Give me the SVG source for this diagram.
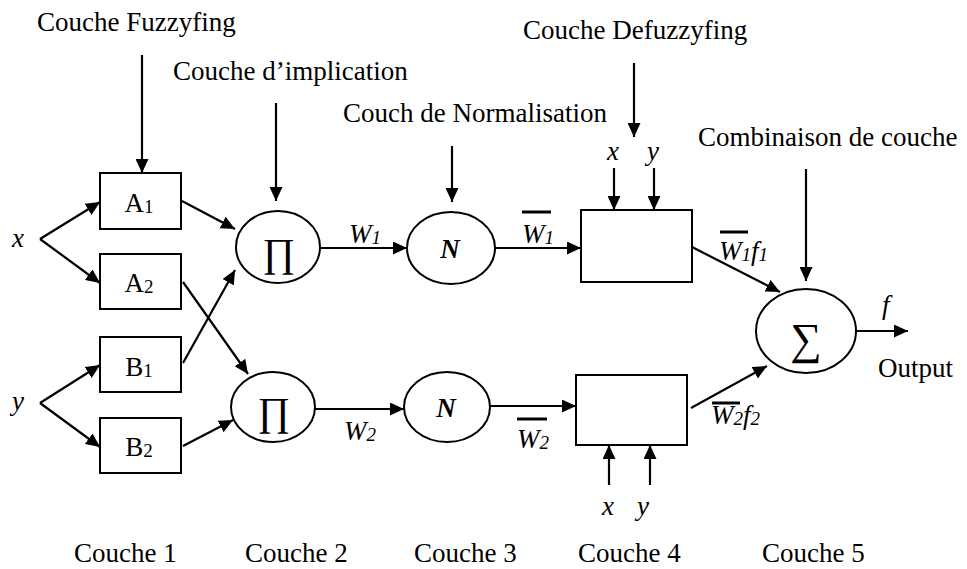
<svg xmlns="http://www.w3.org/2000/svg" width="967" height="569" viewBox="0 0 967 569">
<style>
text{font-family:"Liberation Serif","Times New Roman",serif;font-size:27px;fill:#000}
.it{font-style:italic}
.sub{font-size:19px}
.bi{font-style:italic;font-weight:bold}
.op{font-size:40px}
.shape{fill:#fff;stroke:#000;stroke-width:2}
.c line{stroke:#000;stroke-width:2.2;fill:none}
.bar{stroke:#000;stroke-width:3}
</style>
<defs>
<marker id="ah" markerUnits="userSpaceOnUse" markerWidth="15" markerHeight="13" refX="14" refY="6.5" orient="auto">
<path d="M0,0 L14,6.5 L0,13 z" fill="#000"/>
</marker>
</defs>
<rect width="967" height="569" fill="#fff"/>

<g id="layer-labels">
<text x="37" y="31">Couche Fuzzyfing</text>
<text x="173" y="80">Couche d’implication</text>
<text x="343" y="122">Couch de Normalisation</text>
<text x="523" y="39">Couche Defuzzyfing</text>
<text x="698" y="146">Combinaison de couche</text>
<text x="74" y="562">Couche 1</text>
<text x="245" y="562">Couche 2</text>
<text x="414" y="562">Couche 3</text>
<text x="578" y="562">Couche 4</text>
<text x="762" y="562">Couche 5</text>
</g>

<g id="input-x"><text class="it" x="12" y="247">x</text></g>
<g id="input-y"><text class="it" x="12" y="410">y</text></g>

<g id="A1"><rect class="shape" x="100" y="173" width="81" height="56"/><text x="139" y="212" text-anchor="middle">A<tspan class="sub" dy="1">1</tspan></text></g>
<g id="A2"><rect class="shape" x="100" y="254" width="81" height="55"/><text x="139" y="292" text-anchor="middle">A<tspan class="sub" dy="1">2</tspan></text></g>
<g id="B1"><rect class="shape" x="100" y="337" width="81" height="55"/><text x="139" y="376" text-anchor="middle">B<tspan class="sub" dy="1">1</tspan></text></g>
<g id="B2"><rect class="shape" x="100" y="418" width="81" height="55"/><text x="139" y="456" text-anchor="middle">B<tspan class="sub" dy="1">2</tspan></text></g>

<g id="Pi1"><ellipse class="shape" cx="278" cy="247" rx="42" ry="36"/><text class="op" x="279" y="266" text-anchor="middle">∏</text></g>
<g id="Pi2"><ellipse class="shape" cx="273" cy="407" rx="42" ry="35"/><text class="op" x="274" y="425" text-anchor="middle">∏</text></g>

<g id="N1"><ellipse class="shape" cx="451" cy="248" rx="44" ry="36"/><text class="bi" x="450" y="258" text-anchor="middle">N</text></g>
<g id="N2"><ellipse class="shape" cx="447" cy="407" rx="43" ry="35"/><text class="bi" x="446" y="417" text-anchor="middle">N</text></g>

<g id="Box1"><rect class="shape" x="581" y="210" width="111" height="72"/></g>
<g id="Box2"><rect class="shape" x="576" y="375" width="111" height="70"/></g>

<g id="Sigma"><ellipse class="shape" cx="806" cy="331" rx="50" ry="42"/><text class="op" x="806" y="354" text-anchor="middle" style="font-size:44px">∑</text></g>

<g id="connectors" class="c">
<line x1="142" y1="55" x2="142" y2="173" marker-end="url(#ah)"/>
<line x1="276" y1="103" x2="276" y2="201" marker-end="url(#ah)"/>
<line x1="452" y1="146" x2="452" y2="202" marker-end="url(#ah)"/>
<line x1="634" y1="63" x2="634" y2="137" marker-end="url(#ah)"/>
<line x1="806" y1="169" x2="806" y2="281" marker-end="url(#ah)"/>
<line x1="40" y1="239" x2="100" y2="202" marker-end="url(#ah)"/>
<line x1="40" y1="239" x2="100" y2="283" marker-end="url(#ah)"/>
<line x1="40" y1="403" x2="100" y2="365" marker-end="url(#ah)"/>
<line x1="40" y1="403" x2="100" y2="447" marker-end="url(#ah)"/>
<line x1="182" y1="201" x2="235" y2="229" marker-end="url(#ah)"/>
<line x1="183" y1="282" x2="248" y2="374" marker-end="url(#ah)"/>
<line x1="183" y1="363" x2="235" y2="270" marker-end="url(#ah)"/>
<line x1="183" y1="446" x2="233" y2="420" marker-end="url(#ah)"/>
<line x1="320" y1="248" x2="407" y2="248" marker-end="url(#ah)"/>
<line x1="315" y1="409" x2="404" y2="409" marker-end="url(#ah)"/>
<line x1="495" y1="248" x2="581" y2="248" marker-end="url(#ah)"/>
<line x1="490" y1="406" x2="576" y2="406" marker-end="url(#ah)"/>
<line x1="614" y1="168" x2="614" y2="210" marker-end="url(#ah)"/>
<line x1="654" y1="168" x2="654" y2="210" marker-end="url(#ah)"/>
<line x1="609" y1="485" x2="609" y2="445" marker-end="url(#ah)"/>
<line x1="650" y1="485" x2="650" y2="445" marker-end="url(#ah)"/>
<line x1="692" y1="247" x2="780" y2="292" marker-end="url(#ah)"/>
<line x1="691" y1="408" x2="767" y2="366" marker-end="url(#ah)"/>
<line x1="857" y1="331" x2="908" y2="331" marker-end="url(#ah)"/>
</g>

<g id="edge-labels">
<text class="it" x="607" y="160">x</text>
<text class="it" x="647" y="160">y</text>
<text class="it" x="602" y="515">x</text>
<text class="it" x="637" y="515">y</text>
<text class="it" x="349" y="243">W<tspan class="sub" dy="1">1</tspan></text>
<text class="it" x="344" y="440">W<tspan class="sub" dy="1">2</tspan></text>
<line class="bar" x1="522" y1="212" x2="551" y2="212"/>
<text class="it" x="522" y="243">W<tspan class="sub" dy="1">1</tspan></text>
<line class="bar" x1="517" y1="419" x2="547" y2="419"/>
<text class="it" x="517" y="448">W<tspan class="sub" dy="1">2</tspan></text>
<line class="bar" x1="720" y1="232" x2="748" y2="232"/>
<text class="it" x="719" y="260">W<tspan class="sub" dy="1">1</tspan><tspan dy="-1">f</tspan><tspan class="sub" dy="1">1</tspan></text>
<line class="bar" x1="712" y1="403" x2="740" y2="403"/>
<text class="it" x="711" y="424">W<tspan class="sub" dy="1">2</tspan><tspan dy="-1">f</tspan><tspan class="sub" dy="1">2</tspan></text>
<text class="it" x="882" y="314">f</text>
<text x="878" y="377">Output</text>
</g>
</svg>
